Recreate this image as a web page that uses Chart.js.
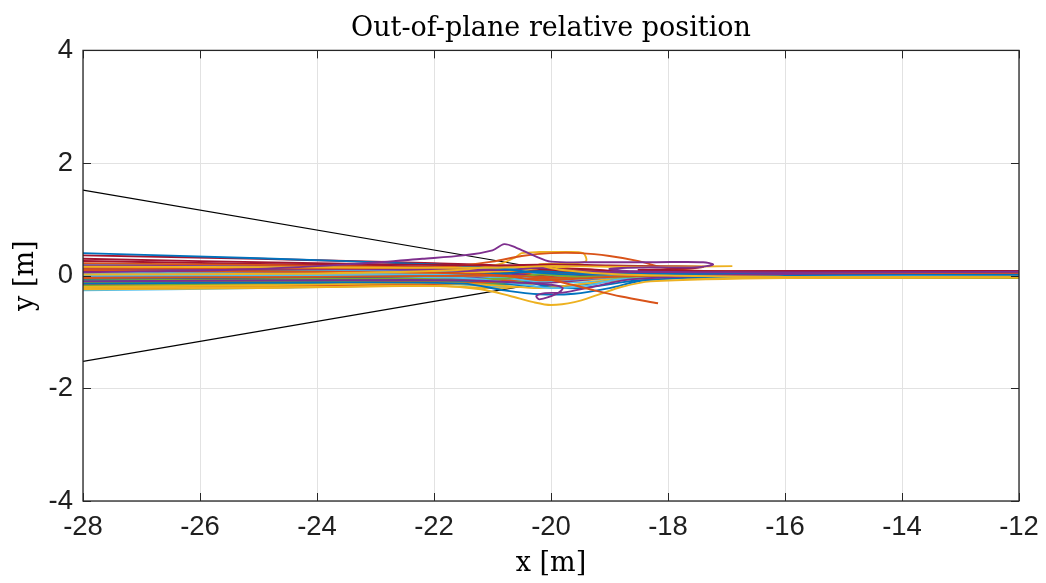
<!DOCTYPE html>
<html>
<head>
<meta charset="utf-8">
<script src="https://cdn.jsdelivr.net/npm/chart.js@4/dist/chart.umd.min.js"></script>
<style>
  html, body { margin: 0; padding: 0; background: #fff; }
  #wrap { width: 1046px; height: 583px; position: relative; }
</style>
</head>
<body>
<div id="wrap"><canvas id="c" width="1046" height="583"></canvas></div>
<script>
// ---- tick labels ----
const X_TICKS = [-28, -26, -24, -22, -20, -18, -16, -14, -12];
const Y_TICKS = [-4, -2, 0, 2, 4];

// ---- colour order (default line colours) ----
const PALETTE = ['#0072BD', '#D95319', '#EDB120', '#7E2F8E', '#77AC30', '#4DBEEE', '#A2142F'];

// ---- approach corridor (cone edges) ----
const CONE_X = [-28, -20.5];
const CONE_UPPER_Y = [1.52, 0.19];
const CONE_LOWER_Y = [-1.52, -0.19];

// ---- main bundle of trajectories, sampled at shared x stations ----
const BUNDLE_X = [-28, -25, -22, -20.8, -20.2, -19.5, -18.5, -16, -12];
const BUNDLE_Y = [
  [0.40, 0.31, 0.20, 0.12, 0.05, 0.02, 0.03, 0.04, 0.05],
  [0.10, 0.08, 0.05, 0.00, -0.08, -0.05, 0.00, 0.01, 0.02],
  [-0.20, -0.17, -0.13, -0.18, -0.22, -0.15, -0.05, -0.03, -0.03],
  [0.18, 0.16, 0.12, 0.10, 0.14, 0.08, 0.06, 0.06, 0.07],
  [-0.12, -0.10, -0.07, -0.05, 0.02, -0.02, -0.02, -0.01, -0.01],
  [0.05, 0.04, 0.02, -0.04, -0.10, -0.06, -0.01, 0.00, 0.01],
  [0.36, 0.30, 0.22, 0.18, 0.12, 0.08, 0.07, 0.07, 0.08],
  [-0.05, -0.03, 0.00, 0.04, 0.08, 0.05, 0.03, 0.03, 0.04],
  [-0.22, -0.19, -0.15, -0.10, -0.04, -0.03, -0.02, -0.02, -0.02],
  [0.02, 0.02, 0.03, 0.08, 0.12, 0.06, 0.00, -0.01, -0.02],
  [0.12, 0.12, 0.10, 0.02, -0.12, -0.08, 0.02, 0.05, 0.06],
  [-0.18, -0.15, -0.12, -0.12, -0.06, -0.04, -0.03, -0.03, -0.04],
  [0.15, 0.12, 0.08, 0.14, 0.04, -0.02, 0.01, 0.02, 0.03],
  [0.08, 0.07, 0.06, 0.04, 0.10, 0.12, 0.06, 0.06, 0.07],
  [-0.10, -0.09, -0.08, -0.14, -0.20, -0.16, -0.04, 0.00, 0.02],
  [0.22, 0.19, 0.14, 0.08, 0.04, 0.02, 0.00, 0.00, 0.00],
  [-0.24, -0.22, -0.18, -0.22, -0.12, -0.08, -0.04, -0.04, -0.04],
  [0.00, 0.00, 0.01, 0.00, 0.06, 0.04, 0.04, 0.05, 0.06],
  [-0.08, -0.06, -0.04, 0.06, 0.12, 0.04, -0.01, -0.02, -0.03],
  [0.20, 0.17, 0.11, 0.02, -0.06, -0.12, -0.02, 0.01, 0.02],
  [-0.02, 0.00, 0.02, 0.06, 0.02, 0.00, 0.05, 0.06, 0.07],
  [0.10, 0.09, 0.06, 0.00, -0.16, -0.22, -0.08, 0.01, 0.03],
  [-0.15, -0.13, -0.10, -0.08, -0.02, 0.02, 0.00, -0.01, -0.01],
  [0.06, 0.05, 0.04, 0.10, 0.18, 0.10, 0.04, 0.02, 0.00],
  [-0.12, -0.10, -0.06, -0.02, 0.02, 0.00, 0.03, 0.05, 0.06],
  [0.02, 0.01, 0.00, -0.02, -0.04, -0.02, -0.01, -0.02, -0.02],
  [-0.18, -0.16, -0.12, -0.20, -0.14, -0.04, 0.01, 0.02, 0.02],
  [0.14, 0.12, 0.10, 0.12, 0.06, 0.05, 0.06, 0.07, 0.08],
  [0.04, 0.03, 0.02, 0.02, -0.02, 0.00, 0.02, 0.03, 0.03],
  [0.16, 0.14, 0.12, 0.14, 0.16, 0.12, 0.05, 0.02, 0.01],
  [-0.10, -0.10, -0.09, -0.12, -0.06, -0.02, -0.02, -0.03, -0.03],
  [0.06, 0.06, 0.05, 0.06, 0.00, 0.02, 0.05, 0.06, 0.07],
  [-0.22, -0.19, -0.15, -0.16, -0.10, -0.05, -0.02, -0.02, -0.02],
  [0.08, 0.07, 0.04, -0.06, 0.00, 0.02, 0.02, 0.02, 0.03],
  [-0.06, -0.04, -0.02, 0.02, 0.06, 0.04, 0.06, 0.07, 0.08],
  [-0.16, -0.14, -0.12, -0.08, -0.12, -0.06, 0.00, 0.02, 0.03],
  [0.00, -0.01, -0.02, -0.06, -0.10, -0.04, -0.01, -0.01, -0.01],
  [0.12, 0.10, 0.06, 0.04, 0.02, 0.04, 0.02, 0.00, -0.01],
  [-0.03, -0.02, -0.02, -0.08, -0.06, 0.00, 0.04, 0.05, 0.06],
  [0.10, 0.08, 0.06, 0.08, 0.10, 0.02, 0.00, -0.01, -0.01],
  [-0.26, -0.22, -0.16, -0.12, -0.08, -0.02, 0.00, 0.01, 0.02],
  [0.26, 0.21, 0.16, 0.14, 0.10, 0.08, 0.07, 0.08, 0.08]
];

// ---- individual trajectories with manoeuvres near the hold point ----
const PURPLE_LOOP_X = [-28, -25, -23.2, -22.2, -21.5, -21.0, -20.8, -20.6, -20.3, -20.0, -19.2, -18.2, -17.4, -17.23, -17.5, -18.3, -19.0, -18.6, -17, -14, -12];
const PURPLE_LOOP_Y = [0.06, 0.12, 0.22, 0.30, 0.36, 0.45, 0.56, 0.50, 0.36, 0.25, 0.24, 0.24, 0.24, 0.20, 0.15, 0.15, 0.12, 0.08, 0.06, 0.06, 0.07];

const RED_LOOP_X = [-28, -24, -21, -20, -19, -18, -17.4, -17.6, -18.5, -17, -12];
const RED_LOOP_Y = [0.30, 0.22, 0.18, 0.20, 0.18, 0.17, 0.16, 0.13, 0.10, 0.08, 0.08];

const ORANGE_ARC_X = [-28, -24, -21.8, -21, -20.5, -20, -19.5, -19, -18.5, -18.1, -17.5, -15, -12];
const ORANGE_ARC_Y = [0.14, 0.13, 0.16, 0.25, 0.35, 0.40, 0.40, 0.35, 0.26, 0.15, 0.09, 0.05, 0.05];

const YELLOW_SHORT_X = [-28, -24, -21, -20, -19, -18, -16.9];
const YELLOW_SHORT_Y = [0.16, 0.15, 0.14, 0.17, 0.16, 0.16, 0.17];

const ORANGE_DROP_X = [-28, -24, -21, -20.3, -19.8, -19.3, -18.8, -18.17];
const ORANGE_DROP_Y = [-0.04, -0.02, 0.0, -0.02, -0.12, -0.25, -0.37, -0.49];

const YELLOW_ARC_X = [-28, -24, -22, -21.2, -20.7, -20.3, -20.0, -19.6, -19.2, -18.8, -18.3, -16, -12];
const YELLOW_ARC_Y = [-0.22, -0.20, -0.18, -0.24, -0.36, -0.47, -0.52, -0.47, -0.34, -0.20, -0.10, -0.04, -0.03];

const PURPLE_HOOK_X = [-28, -24, -21.5, -20.6, -20.0, -19.8, -19.9, -20.2, -20.25, -20.1, -19.8, -19.3, -18.6, -16, -12];
const PURPLE_HOOK_Y = [-0.10, -0.08, -0.08, -0.12, -0.16, -0.22, -0.32, -0.42, -0.36, -0.31, -0.30, -0.20, -0.06, 0.03, 0.05];

const YELLOW_LOOP_X = [-28, -24, -21.6, -20.9, -20.6, -20.5, -20.2, -19.8, -19.45, -19.4, -19.6, -20.2, -19.8, -18.8, -16, -12];
const YELLOW_LOOP_Y = [0.02, 0.04, 0.10, 0.20, 0.33, 0.40, 0.42, 0.42, 0.40, 0.26, 0.22, 0.20, 0.10, 0.02, -0.02, -0.03];

const BLUE_DIP_X = [-28, -24, -21.5, -20.8, -20.2, -19.6, -19.0, -18.4, -16, -12];
const BLUE_DIP_Y = [-0.14, -0.12, -0.14, -0.26, -0.33, -0.32, -0.22, -0.08, 0.01, 0.02];

const CYAN_DIP_X = [-28, -24, -21.5, -20.6, -20, -19.4, -18.8, -16, -12];
const CYAN_DIP_Y = [0.00, 0.00, -0.04, -0.14, -0.22, -0.18, -0.06, 0.00, 0.02];

// ---- build datasets ----
function pts(xs, ys) { return xs.map((x, i) => ({ x: x, y: ys[i] })); }
function line(xs, ys, color, extra) {
  return Object.assign({
    data: pts(xs, ys), borderColor: color, borderWidth: 1.9,
    pointRadius: 0, showLine: true, fill: false, tension: 0.3, order: 0
  }, extra || {});
}

const datasets = [];
[
  [ORANGE_DROP_X, ORANGE_DROP_Y, PALETTE[1]],
  [PURPLE_LOOP_X, PURPLE_LOOP_Y, PALETTE[3]],
  [YELLOW_SHORT_X, YELLOW_SHORT_Y, PALETTE[2]],
  [RED_LOOP_X, RED_LOOP_Y, PALETTE[6]],
  [ORANGE_ARC_X, ORANGE_ARC_Y, PALETTE[1]],
  [YELLOW_LOOP_X, YELLOW_LOOP_Y, PALETTE[2]],
  [PURPLE_HOOK_X, PURPLE_HOOK_Y, PALETTE[3]],
  [YELLOW_ARC_X, YELLOW_ARC_Y, PALETTE[2]],
  [BLUE_DIP_X, BLUE_DIP_Y, PALETTE[0]],
  [CYAN_DIP_X, CYAN_DIP_Y, PALETTE[5]]
].forEach(d => datasets.push(line(d[0], d[1], d[2])));
BUNDLE_Y.forEach((ys, i) => datasets.push(line(BUNDLE_X, ys, PALETTE[i % PALETTE.length])));
datasets.push(line(CONE_X, CONE_UPPER_Y, '#000000', { borderWidth: 1.2, tension: 0, order: 10 }));
datasets.push(line(CONE_X, CONE_LOWER_Y, '#000000', { borderWidth: 1.2, tension: 0, order: 10 }));

// ---- box outline with inward tick marks ----
const boxTicks = {
  id: 'boxTicks',
  afterDraw(chart) {
    const { ctx, chartArea: a, scales } = chart;
    ctx.save();
    ctx.strokeStyle = '#262626';
    ctx.lineWidth = 1.3;
    ctx.strokeRect(a.left, a.top, a.right - a.left, a.bottom - a.top);
    const len = 8;
    ctx.beginPath();
    X_TICKS.forEach(v => {
      const px = Math.round(scales.x.getPixelForValue(v)) + 0.5;
      ctx.moveTo(px, a.bottom); ctx.lineTo(px, a.bottom - len);
      ctx.moveTo(px, a.top); ctx.lineTo(px, a.top + len);
    });
    Y_TICKS.forEach(v => {
      const py = Math.round(scales.y.getPixelForValue(v)) + 0.5;
      ctx.moveTo(a.left, py); ctx.lineTo(a.left + len, py);
      ctx.moveTo(a.right, py); ctx.lineTo(a.right - len, py);
    });
    ctx.lineWidth = 1;
    ctx.stroke();
    ctx.restore();
  }
};

const tickFont = { family: 'Liberation Sans', size: 27.5 };
const serif = 'DejaVu Serif';

new Chart(document.getElementById('c'), {
  type: 'scatter',
  data: { datasets: datasets },
  plugins: [boxTicks],
  options: {
    responsive: false,
    animation: false,
    events: [],
    layout: { padding: { left: 0, right: 27, top: 0, bottom: 0 } },
    plugins: {
      legend: { display: false },
      tooltip: { enabled: false },
      title: {
        display: true,
        text: 'Out-of-plane relative position',
        fullSize: false,
        color: '#000000',
        font: { family: serif, size: 27, weight: 'normal' },
        padding: { top: 13, bottom: 5 }
      }
    },
    scales: {
      x: {
        type: 'linear',
        min: -28, max: -12,
        afterBuildTicks: s => { s.ticks = X_TICKS.map(v => ({ value: v })); },
        afterFit: s => { s.height = 82; s.paddingLeft = 0; s.paddingRight = 0; },
        grid: { color: '#e2e2e2', lineWidth: 1, drawTicks: false },
        border: { display: false },
        ticks: { font: tickFont, color: '#1f1f1f', padding: 10, maxRotation: 0, autoSkip: false },
        title: {
          display: true, text: 'x [m]', color: '#000000',
          font: { family: serif, size: 27, weight: 'normal' },
          padding: { top: 0, bottom: 3 }
        }
      },
      y: {
        type: 'linear',
        min: -4, max: 4,
        afterBuildTicks: s => { s.ticks = Y_TICKS.map(v => ({ value: v })); },
        afterFit: s => { s.width = 83; },
        grid: { color: '#e2e2e2', lineWidth: 1, drawTicks: false },
        border: { display: false },
        ticks: { font: tickFont, color: '#1f1f1f', padding: 10, autoSkip: false },
        title: {
          display: true, text: 'y [m]', color: '#000000',
          font: { family: serif, size: 27, weight: 'normal' },
          padding: { top: 10, bottom: 0 }
        }
      }
    }
  }
});
</script>
</body>
</html>
